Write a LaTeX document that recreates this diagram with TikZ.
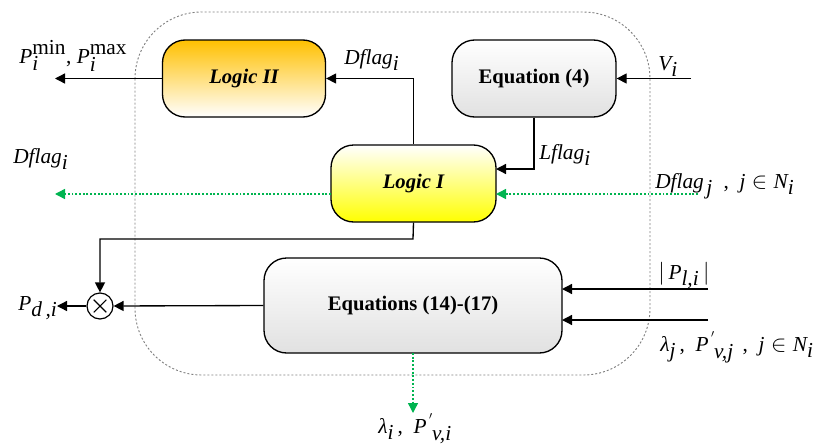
\documentclass[tikz,border=0pt]{standalone}
\usepackage{fontspec}
\setmainfont{Liberation Serif}
\usetikzlibrary{arrows.meta,calc}
\definecolor{orangetop}{RGB}{255,192,0}
\definecolor{gyellow}{RGB}{255,255,0}
\definecolor{ggray}{RGB}{225,225,225}
\definecolor{dgreen}{RGB}{0,180,80}
\tikzset{
  blk/.style={draw,line width=1pt,rounded corners=17pt,inner sep=0pt,font=\fontsize{15.5}{18}\selectfont\bfseries},
  arr/.style={line width=1pt,-{Triangle[length=7.5pt,width=7.5pt]}},
  garr/.style={line width=1.1pt,dgreen,dash pattern=on 1.4pt off 1.4pt,-{Triangle[length=7.5pt,width=7.5pt]}},
  lbl/.style={anchor=base west,inner sep=0pt,font=\fontsize{16}{19}\selectfont},
}
\newcommand{\ti}[1]{\textit{#1}}
\begin{document}
\begin{tikzpicture}[x=0.75pt,y=-0.75pt]
\useasboundingbox (0,0) rectangle (831,446);
% outer dashed frame
\draw[gray,line width=0.7pt,dash pattern=on 1.5pt off 1.5pt,rounded corners=50pt] (135,12) rectangle (650,375);
% blocks
\node[blk,top color=orangetop,bottom color=white,minimum width=122.25pt,minimum height=57.75pt] (L2) at (244,78.5) {\itshape Logic II};
\node[blk,top color=white,bottom color=ggray,minimum width=123pt,minimum height=57.75pt] (E4) at (534,78.5) {Equation (4)};
\node[blk,top color=white,bottom color=gyellow,minimum width=123.75pt,minimum height=57.75pt] (L1) at (413.5,183.5) {\itshape Logic I};
\node[blk,top color=white,bottom color=ggray,minimum width=223.5pt,minimum height=71.25pt] (EQ) at (413,305.5) {Equations (14)-(17)};
\node[draw,circle,line width=0.9pt,minimum size=19.5pt,inner sep=0pt,
  path picture={\draw[line width=0.8pt] (path picture bounding box.south west)++(5pt,5pt) -- ++(9.5pt,9.5pt);
                \draw[line width=0.8pt] (path picture bounding box.north west)++(5pt,-5pt) -- ++(9.5pt,-9.5pt);}] (M) at (100,306) {};
% free ends
\coordinate (pout) at (55,78.5);
\coordinate (vin) at (691,78.5);
\coordinate (lf) at (496,169);
\coordinate (dgin) at (698,194);
\coordinate (dgR) at (496,194);
\coordinate (dgL) at (331,194);
\coordinate (dgout) at (55,194);
\coordinate (bend) at (413,239);
\coordinate (pdout) at (57,306);
\coordinate (pl) at (708,289);
\coordinate (plin) at (562,289);
\coordinate (lam) at (708,320);
\coordinate (lamin) at (562,320);
\coordinate (eqb) at (413,353);
\coordinate (lout) at (413,413);
% connectors
\draw[arr] (L2.west) -- (pout);
\draw[arr] (L1.north) |- (L2.east);
\draw[arr] (vin) -- (E4.east);
\draw[arr] (E4.south) |- (lf);
\draw[garr] (dgin) -- (dgR);
\draw[garr] (dgL) -- (dgout);
\draw[arr] (L1.south) -- (bend) -| (M.north);
\draw[arr] (EQ.west) -- (M.east);
\draw[arr] (M.west) -- (pdout);
\draw[arr] (pl) -- (plin);
\draw[arr] (lam) -- (lamin);
\draw[garr] (eqb) -- (lout);
% labels
\node[lbl] (t1) at (19,63) {$\ti{P}^{\scriptscriptstyle\textrm{min}}_{\scriptscriptstyle\ti{i}}$, $\ti{P}^{\scriptscriptstyle\textrm{max}}_{\scriptscriptstyle\ti{i}}$};
\node[lbl] (t2) at (344,64) {$\ti{Dflag}_{\ti{i}}$};
\node[lbl] (t3) at (539,159) {$\ti{Lflag}_{\ti{i}}$};
\node[lbl] (t4) at (658,70) {$\ti{V}_{\ti{i}}$};
\node[lbl] (t5) at (655,188) {$\ti{Dflag}_{\,\ti{j}}$\ \ ,\ \ $\ti{j}\in \ti{N}_{\ti{i}}$};
\node[lbl] (t6) at (13,163) {$\ti{Dflag}_{\ti{i}}$};
\node[lbl] (t7) at (18,310) {$\ti{P}_{\ti{d\,,i}}$};
\node[lbl] (t8) at (658,279) {$|\,\ti{P}_{\ti{l,i}}\,|$};
\node[lbl] (t9) at (660,351) {$\ti{λ}_{\ti{j}}$\,, \ $\ti{P}^{\,'}_{\ \ti{v,j}}$\ \,, \ $\ti{j}\in \ti{N}_{\ti{i}}$};
\node[lbl] (t10) at (378,433) {$\ti{λ}_{\ti{i}}$\,, \ $\ti{P}^{\,'}_{\ \ti{v,i}}$};
\end{tikzpicture}
\end{document}
